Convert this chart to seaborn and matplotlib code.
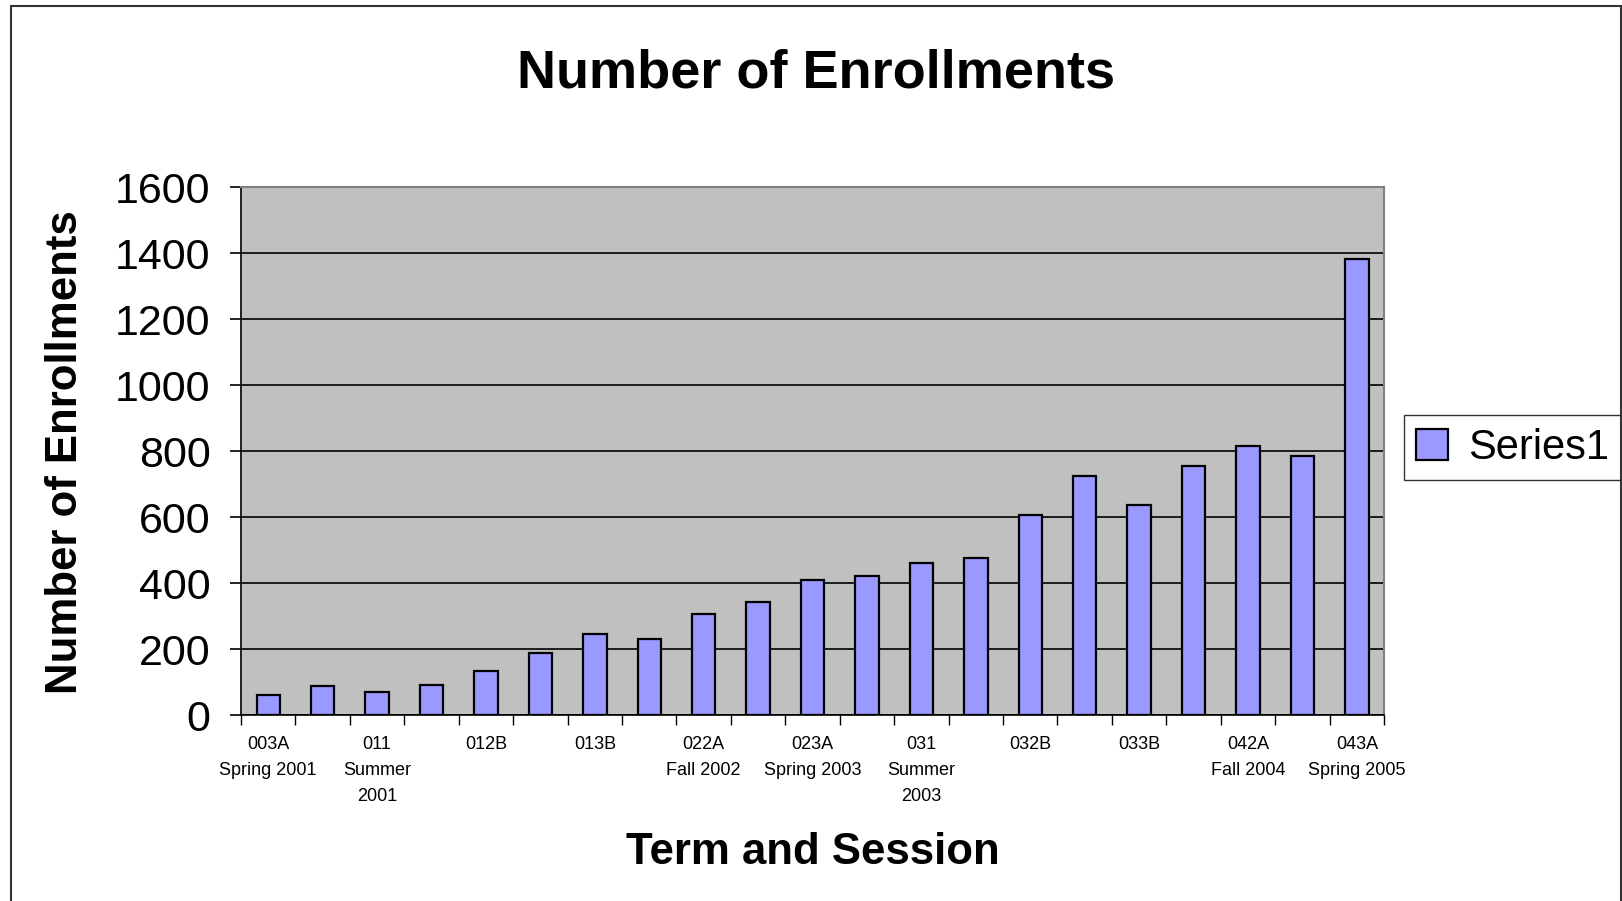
import numpy as np
import pandas as pd
import seaborn as sns
import matplotlib.pyplot as plt
from matplotlib.patches import Rectangle

# bar values, one per term/session
enrollments = [61, 87, 71, 91, 133, 189, 245, 230, 307, 343, 410,
               421, 461, 477, 605, 723, 637, 754, 816, 785, 1382]
# only every other category is labelled in the original
term_labels = ['003A\nSpring 2001', '', '011\nSummer\n2001', '', '012B', '',
               '013B', '', '022A\nFall 2002', '', '023A\nSpring 2003', '',
               '031\nSummer\n2003', '', '032B', '', '033B', '',
               '042A\nFall 2004', '', '043A\nSpring 2005']
y_ticks = [0, 200, 400, 600, 800, 1000, 1200, 1400, 1600]

df = pd.DataFrame({'pos': np.arange(len(enrollments)), 'n': enrollments})

sns.set_theme(style='white')
plt.rcParams['font.family'] = ['Liberation Sans', 'DejaVu Sans']
plt.rcParams['text.color'] = 'black'
plt.rcParams['xtick.color'] = 'black'
plt.rcParams['ytick.color'] = 'black'

fig = plt.figure(figsize=(16.22, 9.01), dpi=100)
ax = fig.add_axes([0.1486, 0.2064, 0.7047, 0.586])
ax.set_facecolor('#C0C0C0')

sns.barplot(data=df, x='pos', y='n', color='#9999FF', edgecolor='black',
            linewidth=1.6, width=0.43, saturation=1, label='Series1', ax=ax)

ax.set_ylim(0, 1600)
ax.set_xlim(-0.5, len(enrollments) - 0.5)
ax.set_yticks(y_ticks)
ax.set_yticklabels([str(t) for t in y_ticks], fontsize=31)
ax.yaxis.grid(True, color='black', linewidth=1.2)
ax.set_axisbelow(True)

ax.set_xticks(np.arange(len(enrollments)))
ax.set_xticklabels(term_labels, fontsize=13, linespacing=1.7, va='top')
ax.set_xticks(np.arange(len(enrollments) + 1) - 0.5, minor=True)
ax.tick_params(axis='x', which='major', length=0, pad=15)
ax.tick_params(axis='x', which='minor', length=7, width=1, color='black',
               direction='out', bottom=True)
ax.tick_params(axis='y', length=8, width=1.2, color='black', direction='out',
               left=True, pad=14)

for side in ['left', 'bottom']:
    ax.spines[side].set_color('black')
    ax.spines[side].set_linewidth(1.2)
for side in ['top', 'right']:
    ax.spines[side].set_color('#808080')
    ax.spines[side].set_linewidth(1.5)

ax.set_xlabel('')
ax.set_ylabel('')
fig.text(0.503, 0.918, 'Number of Enrollments', fontsize=39, fontweight='bold',
         ha='center', va='center')
fig.text(0.0405, 0.498, 'Number of Enrollments', fontsize=31.5, fontweight='bold',
         ha='center', va='center', rotation=90)
fig.text(0.501, 0.054, 'Term and Session', fontsize=31.5, fontweight='bold',
         ha='center', va='center')

leg = ax.legend(loc='center left', bbox_to_anchor=(0.8655, 0.503),
                bbox_transform=fig.transFigure, fontsize=30, frameon=True,
                fancybox=False, edgecolor='black', handlelength=0.75,
                handleheight=0.75, handletextpad=0.5, borderpad=0.3,
                borderaxespad=0)
leg.get_frame().set_linewidth(1.0)

# outer chart border
fig.patches.append(Rectangle((0.0068, -0.01), 0.9925, 1.003, transform=fig.transFigure,
                             fill=False, edgecolor='#333333', linewidth=1.5))

fig.savefig('out.png', dpi=100)
